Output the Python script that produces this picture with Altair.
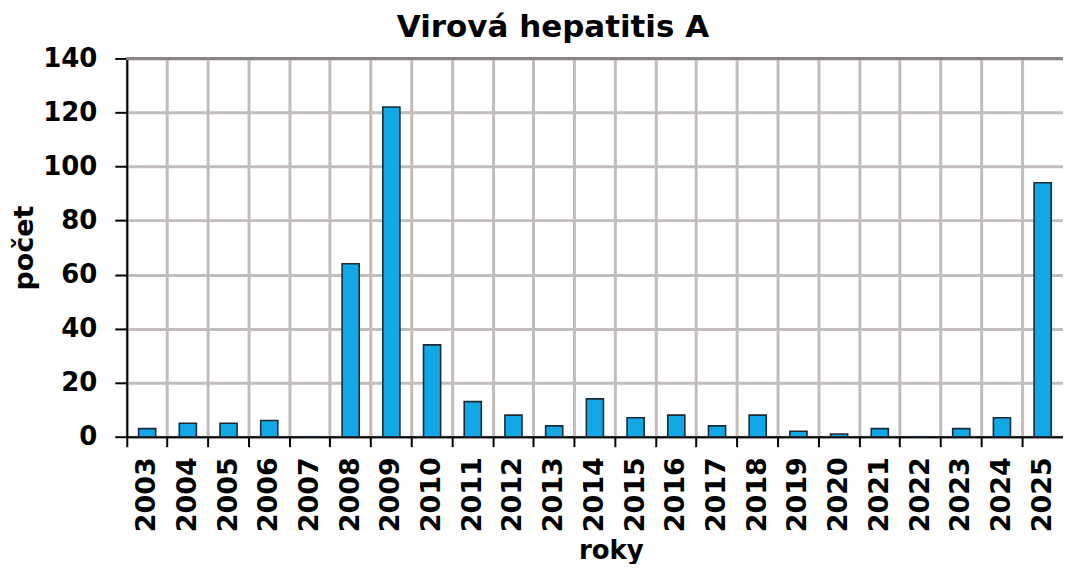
import altair as alt
import pandas as pd

years = [str(y) for y in range(2003, 2026)]
counts = [3, 5, 5, 6, 0, 64, 122, 34, 13, 8, 4, 14, 7, 8, 4, 8, 2, 1, 3, 0, 3, 7, 94]

df = pd.DataFrame({"rok": years, "pocet": counts})

FONT = "DejaVu Sans"

x_enc = alt.X(
    "rok:N",
    sort=years,
    scale=alt.Scale(paddingInner=0, paddingOuter=0),
    axis=alt.Axis(
        title="roky",
        bandPosition=0,
        labelAngle=270,
        labelFont=FONT,
        labelFontSize=27,
        labelFontWeight="bold",
        labelColor="#000000",
        labelPadding=10,
        tickSize=10,
        tickColor="#000000",
        tickWidth=2,
        domainColor="#000000",
        domainWidth=2,
        grid=True,
        gridColor="#c2bcbc",
        gridWidth=3,
        titleFont=FONT,
        titleFontSize=26,
        titleFontWeight="bold",
        titleColor="#000000",
        titlePadding=6,
        titleX=485,
    ),
)

y_enc = alt.Y(
    "pocet:Q",
    scale=alt.Scale(domain=[0, 140], nice=False),
    axis=alt.Axis(
        title="počet",
        values=[0, 20, 40, 60, 80, 100, 120, 140],
        labelFont=FONT,
        labelFontSize=26,
        labelFontWeight="bold",
        labelColor="#000000",
        labelPadding=18,
        tickSize=12,
        tickColor="#000000",
        tickWidth=2,
        domainColor="#000000",
        domainWidth=2,
        grid=True,
        gridColor="#c2bcbc",
        gridWidth=3,
        titleFont=FONT,
        titleFontSize=27,
        titleFontWeight="bold",
        titleColor="#000000",
        titlePadding=4,
    ),
)

bars = alt.Chart(df).mark_bar(
    color="#12a8e6",
    stroke="#1b2a36",
    strokeWidth=1.6,
    width=alt.RelativeBandSize(0.42),
).encode(x=x_enc, y=y_enc)

top_line = alt.Chart(df).mark_rule(color="#8a8484", strokeWidth=3).encode(
    y=alt.datum(140)
)

chart = alt.layer(bars, top_line).properties(
    width=938,
    height=379,
    autosize=alt.AutoSizeParams(type="none"),
    padding={"left": 119, "top": 50, "right": 0, "bottom": 127},
    title=alt.TitleParams(
        text="Virová hepatitis A",
        font=FONT,
        fontSize=31,
        fontWeight="bold",
        color="#000000",
        anchor="middle",
        frame="group",
        dx=-42,
        offset=1,
    ),
).configure_view(
    fill="#e7b6b9",
    stroke=None,
).configure(background="#ffffff")

chart.save("out.html", embed_options={"renderer": "svg", "actions": False})
